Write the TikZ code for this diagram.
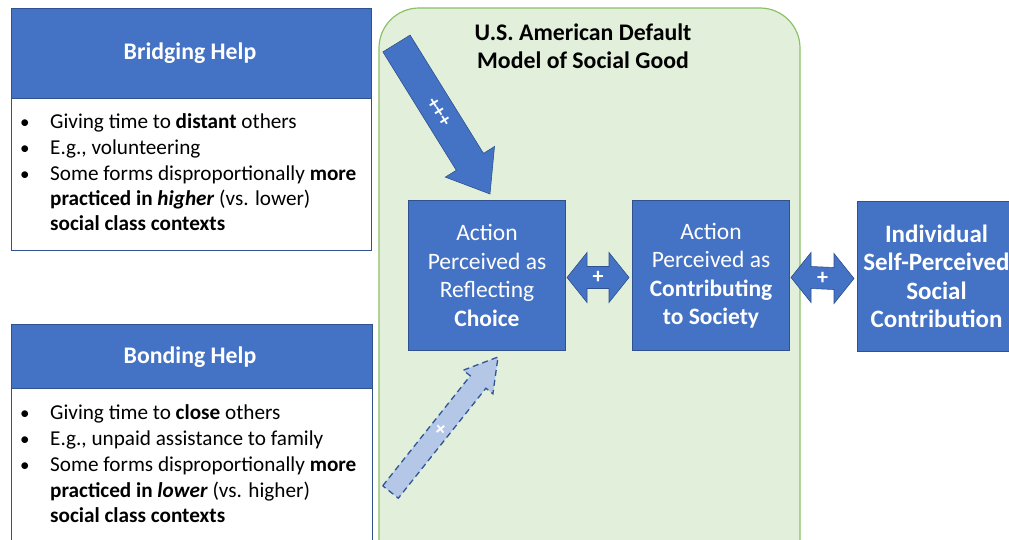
\documentclass[tikz,border=0pt]{standalone}
\usepackage{fontspec}
\setmainfont{Carlito}
\usetikzlibrary{calc}
\definecolor{mblue}{HTML}{4472C4}
\definecolor{dblue}{HTML}{2F528F}
\definecolor{gfill}{HTML}{E2EFDA}
\definecolor{gline}{HTML}{8CC168}
\definecolor{lblue}{HTML}{B4C7E7}
\definecolor{dashblue}{HTML}{2F5597}
\begin{document}
\begin{tikzpicture}[x=1pt,y=-1pt,
  bluebox/.style={draw=dblue, line width=1pt, fill=mblue, text=white, align=center,
    font=\fontsize{23.5}{28.5}\selectfont, inner sep=0pt, anchor=north west},
  headbox/.style={draw=dblue, line width=0.8pt, fill=mblue, inner sep=0pt, anchor=north west},
  headtext/.style={font=\fontsize{23.8}{28}\selectfont\bfseries, text=white, inner sep=0pt},
  bodybox/.style={draw=dblue, line width=0.8pt, fill=white, inner sep=0pt, anchor=north west},
  bodytext/.style={anchor=base west, inner sep=0pt, font=\fontsize{21.2}{25}\selectfont},
  bul/.style={anchor=base west, inner sep=0pt, font=\fontsize{19}{21}\selectfont},
  dblarrow/.style={fill=mblue, draw=dblue, line width=0.6pt, line join=miter},
  pluslabel/.style={text=white, font=\fontsize{22}{24}\selectfont\bfseries, inner sep=0pt}
]
\useasboundingbox (0,0) rectangle (1009,539);
\fill[white] (0,0) rectangle (1009,539);

% Green model area
\filldraw[fill=gfill, draw=gline, line width=1.2pt, rounded corners=40pt]
  (379,8) rectangle (800,600);
\node[font=\fontsize{23.8}{28}\selectfont\bfseries, align=center, inner sep=0pt] (title) at (583,46)
  {U.S. American Default\\Model of Social Good};

% Left panels
\node[headbox, minimum width=360pt, minimum height=90pt] (bh1) at (11,8) {};
\node[headtext] (bh1t) at (190,53) {Bridging Help};
\node[bodybox, minimum width=360pt, minimum height=152pt] (bb1) at (11,98) {};
\foreach \yy in {128,154,180} \node[bul] at (20,\yy) {•};
\node[bodytext] (l11) at (50,128) {Giving time to \textbf{distant} others};
\node[bodytext] (l12) at (50,154) {E.g., volunteering};
\node[bodytext] (l13) at (50,180) {Some forms disproportionally \textbf{more}};
\node[bodytext] (l14) at (50,205) {\textbf{practiced in \textit{higher}} (vs. lower)};
\node[bodytext] (l15) at (50,230) {\textbf{social class contexts}};

\node[headbox, minimum width=361pt, minimum height=64pt] (bh2) at (11,324) {};
\node[headtext] (bh2t) at (190,357) {Bonding Help};
\node[bodybox, minimum width=361pt, minimum height=180pt] (bb2) at (11,388) {};
\foreach \yy in {419,445,471} \node[bul] at (20,\yy) {•};
\node[bodytext] (l21) at (50,419) {Giving time to \textbf{close} others};
\node[bodytext] (l22) at (50,445) {E.g., unpaid assistance to family};
\node[bodytext] (l23) at (50,471) {Some forms disproportionally \textbf{more}};
\node[bodytext] (l24) at (50,497) {\textbf{practiced in \textit{lower}} (vs. higher)};
\node[bodytext] (l25) at (50,522) {\textbf{social class contexts}};

% Blue boxes
\node[bluebox, minimum width=157pt, minimum height=150pt] (b1) at (408,200)
  {Action\\Perceived as\\Reflecting\\\textbf{Choice}};
\node[bluebox, minimum width=157pt, minimum height=150pt] (b2) at (632,200)
  {Action\\Perceived as\\\textbf{Contributing}\\\textbf{to Society}};
\node[bluebox, minimum width=158pt, minimum height=150pt, font=\fontsize{25}{28.5}\selectfont\bfseries] (b3) at (857,201)
  {Individual\\Self-Perceived\\Social\\Contribution};

% Double arrows
\coordinate (a1s) at ($(b1.east)+(1,2)$);
\coordinate (a1e) at ($(b2.west)+(-3,2)$);
\draw[dblarrow] (a1s) -- ++(20,-25) -- ++(0,14) -- ($(a1e)+(-20,-11)$) -- ++(0,-14) -- (a1e)
  -- ++(-20,25) -- ++(0,-14) -- ($(a1s)+(20,11)$) -- ++(0,14) -- cycle;
\node[pluslabel] (p1) at ($(a1s)!0.5!(a1e)$) {+};

\coordinate (a2s) at ($(b2.east)+(1,2)$);
\coordinate (a2e) at ($(b3.west)+(-3,2)$);
\draw[dblarrow] (a2s) -- ++(20,-25) -- ++(0,14) -- ($(a2e)+(-20,-11)$) -- ++(0,-14) -- (a2e)
  -- ++(-20,25) -- ++(0,-14) -- ($(a2s)+(20,11)$) -- ++(0,14) -- cycle;
\node[pluslabel] (p2) at ($(a2s)!0.5!(a2e)$) {+};

% Diagonal arrow from Bridging Help (+++)
\coordinate (t1) at (490,194);
\draw[fill=mblue, draw=dblue, line width=0.6pt, line join=miter]
  (382.9,51.9) -- (410.1,35.1) -- (483.5,153.4) -- (494.5,146.5) -- (t1)
  -- (445.3,177.1) -- (456.3,170.3) -- cycle;
\node[text=white, font=\fontsize{20}{24}\selectfont\bfseries, rotate=-58, inner sep=0pt] (ppp) at (438.5,112) {+++};

% Dashed arrow from Bonding Help (+)
\coordinate (t2) at (498,357);
\draw[fill=lblue, draw=dashblue, line width=1.3pt, dash pattern=on 6pt off 4pt, line join=miter]
  (382.7,485.8) -- (470.3,375.8) -- (463.2,370.2) -- (t2) -- (492.9,393.8)
  -- (485.9,388.2) -- (398.3,498.2) -- cycle;
\node[text=white, font=\fontsize{21}{24}\selectfont\bfseries, rotate=-51, inner sep=0pt] (pb) at (440,430) {+};
\end{tikzpicture}
\end{document}
